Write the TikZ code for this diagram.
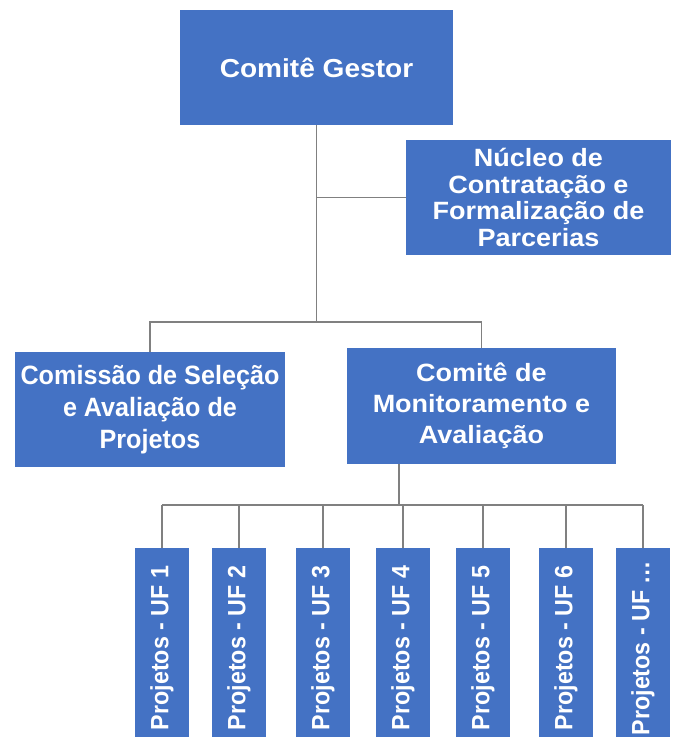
\documentclass[tikz,border=0pt]{standalone}
\usepackage{fontspec}
\usepackage{graphicx}
\setmainfont{Liberation Sans}[FakeStretch=1.08]
\newfontfamily\uffont{Liberation Sans}[FakeStretch=0.93]
\newfontfamily\narrowfont{Liberation Sans}[FakeStretch=0.95]
\usetikzlibrary{positioning}
\definecolor{boxblue}{HTML}{4472C4}
\definecolor{linegray}{HTML}{808080}

\begin{document}
\begin{tikzpicture}[x=1pt,y=-1pt,
    orgbox/.style={fill=boxblue, text=white, align=center, inner sep=0pt,
        minimum width=270pt, minimum height=115pt},
    ufbox/.style={fill=boxblue, text=white, inner sep=0pt,
        minimum width=54pt, minimum height=200pt,
        font=\uffont\bfseries\fontsize{25}{30}\selectfont},
    link/.style={draw=linegray, line width=1.3pt}]

        \useasboundingbox (0,0) rectangle (677,737);
        \clip (0,0) rectangle (677,737);

        % top levels
        \node[orgbox, minimum width=273pt, font=\bfseries\fontsize{26}{30}\selectfont]
            (gestor) at (316.5,67.5) {Comitê Gestor};
        \node[orgbox, minimum width=265pt, font=\bfseries\fontsize{25}{26.7}\selectfont]
            (nucleo) at (538.5,197.5) {Núcleo de\\Contratação e\\Formalização de\\Parcerias};
        \node[orgbox, font=\narrowfont\bfseries\fontsize{26.5}{32}\selectfont]
            (comissao) at (150,409.5) {Comissão de Seleção\\e Avaliação de\\Projetos};
        \node[orgbox, minimum width=269pt, minimum height=116pt, font=\bfseries\fontsize{25}{31}\selectfont]
            (monitor) at (481.5,406) {Comitê de\\Monitoramento e\\Avaliação};

        \coordinate (topsplit) at (316.5,322);
        \coordinate (lowsplit) at (399,505);

        \draw[link] (gestor.south) -- (topsplit);
        \draw[link] (gestor.south |- nucleo.west) -- (nucleo.west);
        \draw[link] (comissao.north) |- (topsplit) -| (monitor.north);
        \draw[link] (monitor.south -| lowsplit) -- (lowsplit);

        % projetos por UF
        \foreach \x/\n [count=\i] in {162/1,239/2,323/3,403/4,483/5,566/6,643/\ldots}
            \node[ufbox] (uf\i) at (\x,648) {\rotatebox{90}{Projetos - UF \n}};

        \draw[link] (uf1.north |- lowsplit) -- (uf7.north |- lowsplit);
        \foreach \i in {1,...,7}
            \draw[link] (uf\i.north) -- (uf\i.north |- lowsplit);

\end{tikzpicture}
\end{document}
